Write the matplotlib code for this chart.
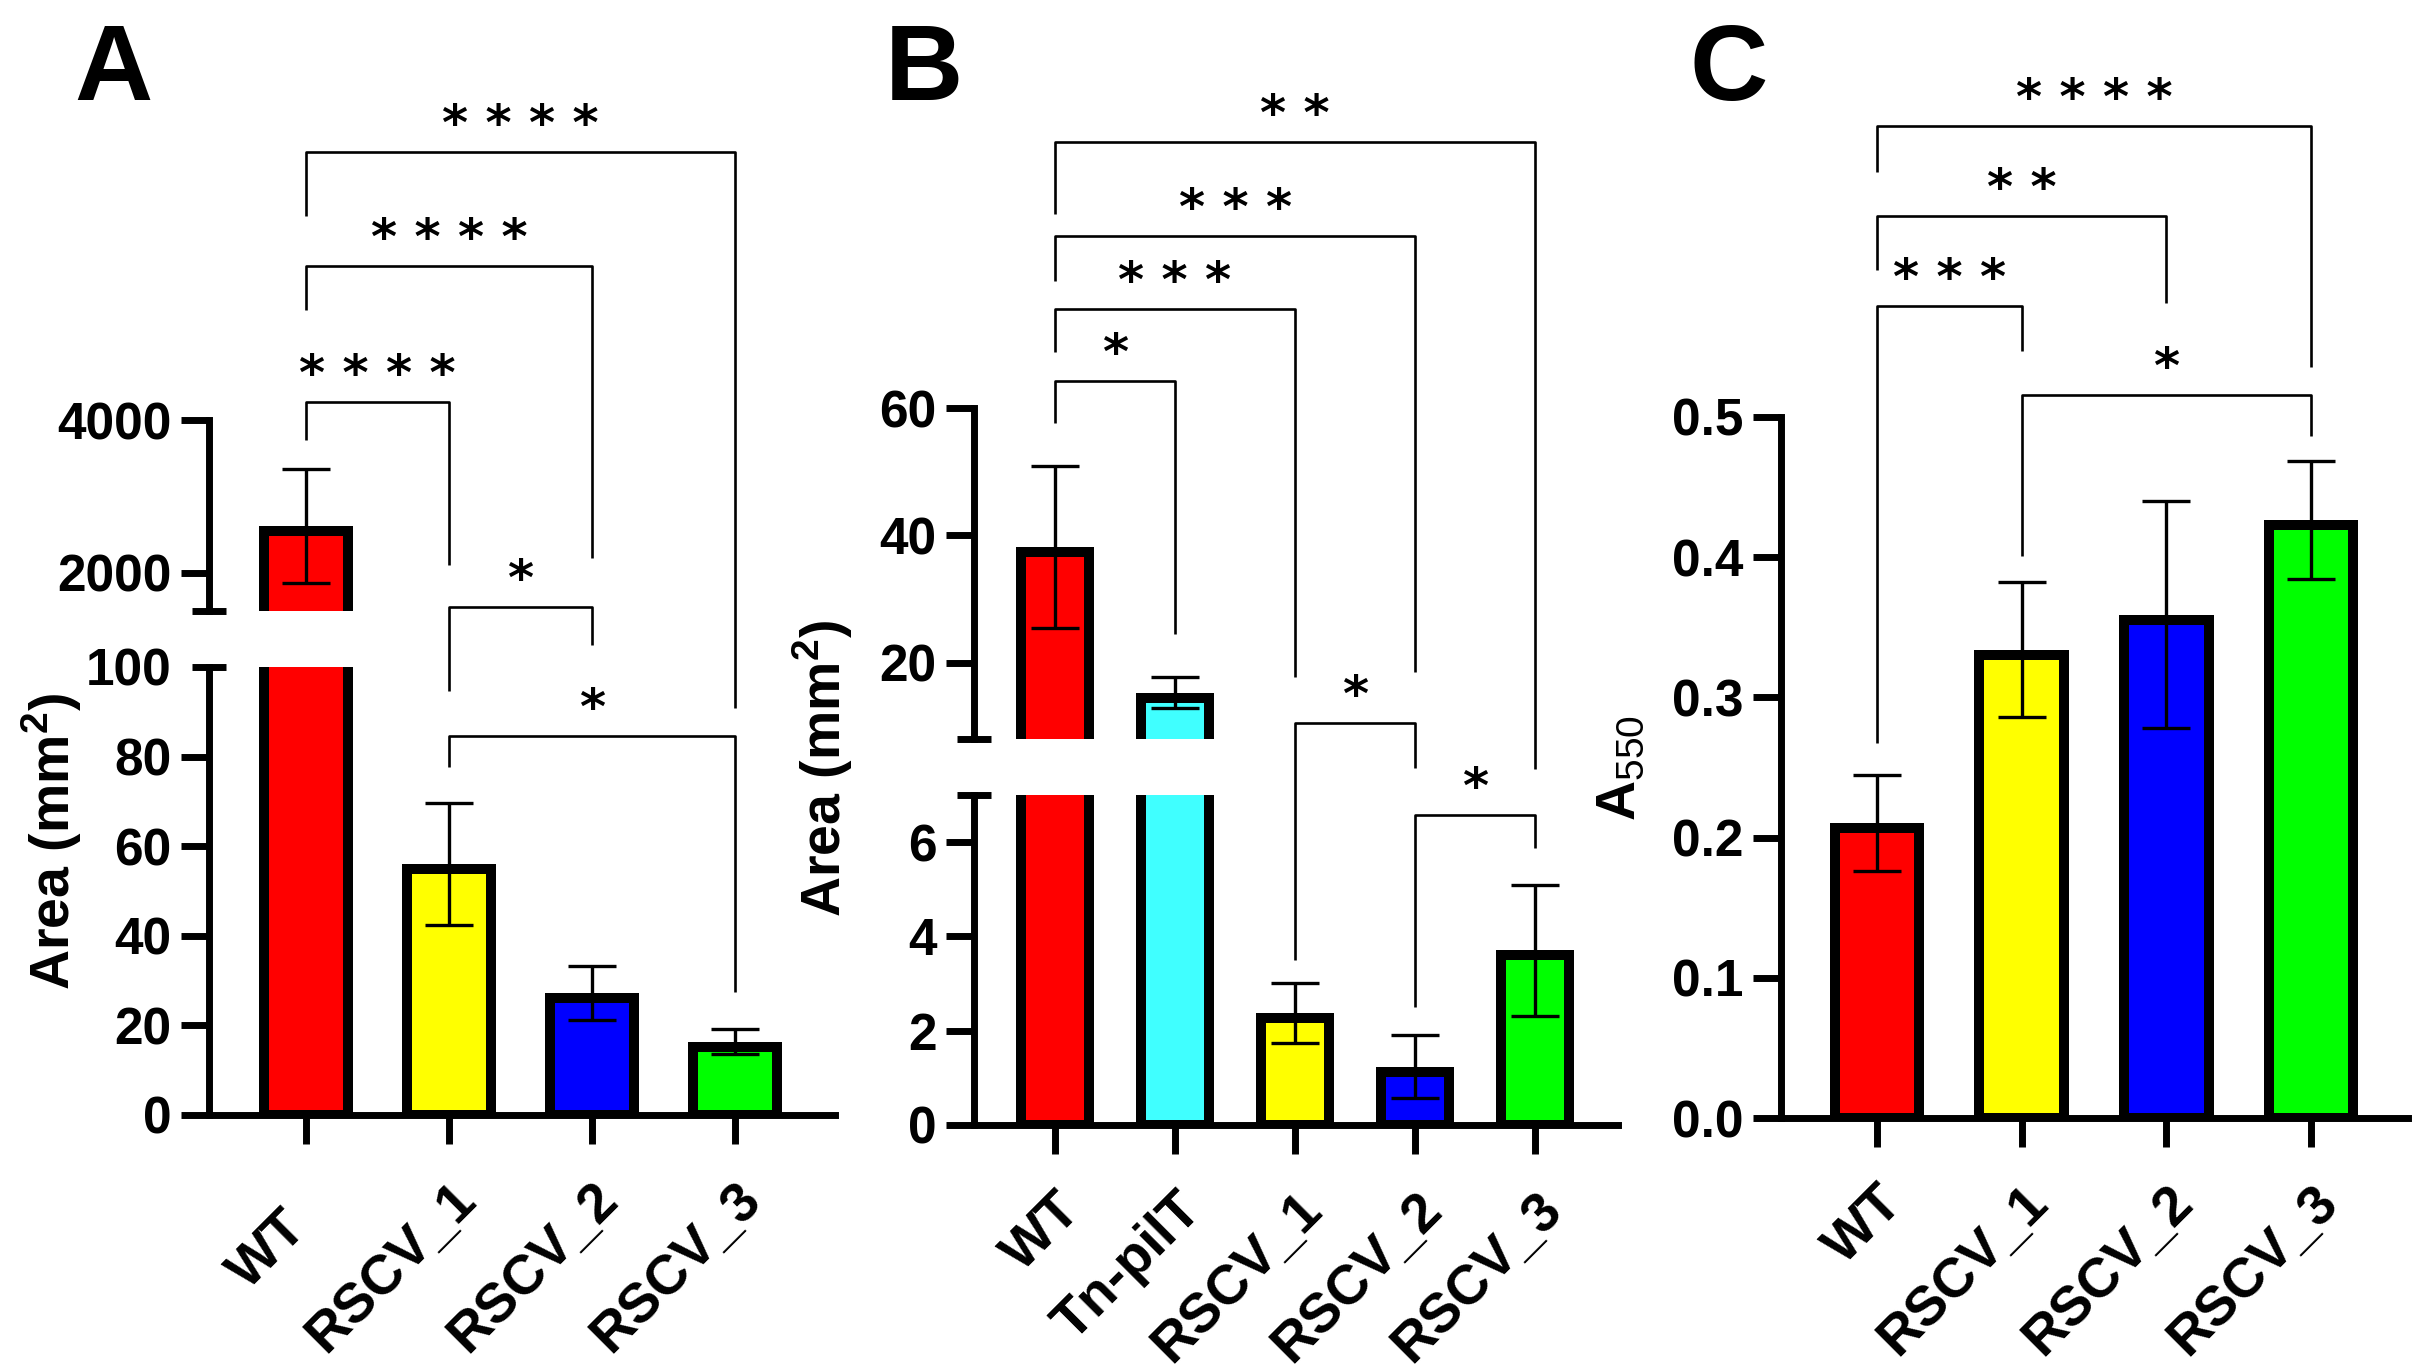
import numpy as np
import matplotlib
matplotlib.use("Agg")
import matplotlib.pyplot as plt
from matplotlib.transforms import blended_transform_factory, ScaledTranslation

plt.rcParams["font.family"] = ["Liberation Sans", "DejaVu Sans"]
plt.rcParams["mathtext.fontset"] = "custom"
plt.rcParams["mathtext.rm"] = "Liberation Sans"
plt.rcParams["mathtext.bf"] = "Liberation Sans:bold"

# ---- data ----
groups_a = ["WT", "RSCV_1", "RSCV_2", "RSCV_3"]
area_a = [2615, 56.0, 27.3, 16.4]
sd_a = [745, 13.7, 6.0, 2.8]
colors_a = ["#ff0000", "#ffff00", "#0000ff", "#00ff00"]

groups_b = ["WT", "Tn-pilT", "RSCV_1", "RSCV_2", "RSCV_3"]
area_b = [38.2, 15.3, 2.38, 1.24, 3.71]
sd_b = [12.7, 2.5, 0.64, 0.67, 1.39]
colors_b = ["#ff0000", "#40ffff", "#ffff00", "#0000ff", "#00ff00"]

groups_c = ["WT", "RSCV_1", "RSCV_2", "RSCV_3"]
a550_c = [0.2105, 0.334, 0.359, 0.4265]
sd_c = [0.0345, 0.048, 0.081, 0.042]
colors_c = ["#ff0000", "#ffff00", "#0000ff", "#00ff00"]

# significance brackets: (group i, group j, stars)
sig_a = [(0, 3, "* * * *"), (0, 2, "* * * *"), (0, 1, "* * * *"), (1, 2, "*"), (1, 3, "*")]
sig_b = [(0, 4, "* *"), (0, 3, "* * *"), (0, 2, "* * *"), (0, 1, "*"), (2, 3, "*"), (3, 4, "*")]
sig_c = [(0, 3, "* * * *"), (0, 2, "* *"), (0, 1, "* * *"), (1, 3, "*")]

# bracket geometry in pixels from top: (bar level, left end, right end)
geo_a = [(152, 216, 708), (266, 310, 558), (402, 440, 565), (607, 691, 645), (736, 767, 992)]
geo_b = [(142, 214, 769), (236, 281, 672), (309, 352, 677), (381, 423, 634), (723, 960, 768), (815, 1007, 848)]
geo_c = [(126, 172, 367), (216, 270, 303), (306, 743, 351), (395, 556, 436)]

W, H = 2423, 1369
fig = plt.figure(figsize=(W / 100, H / 100), dpi=100)

TICK_FS = 37
XLAB_FS = 40
LW_AX = 5
BAR_W = 0.655     # outer width of a bar, border included
EDGE_PX = 10      # bar border, drawn inside the bar like GraphPad


def px_axes(left, top, right, bottom):
    return fig.add_axes([left / W, 1 - bottom / H, (right - left) / W, (bottom - top) / H])


def fy(y):
    return 1 - y / H


def style(ax, xaxis=True):
    for s in ["top", "right"]:
        ax.spines[s].set_visible(False)
    ax.spines["left"].set_linewidth(LW_AX)
    ax.spines["bottom"].set_linewidth(LW_AX)
    ax.tick_params(axis="y", which="major", direction="out", length=20, width=LW_AX,
                   labelsize=TICK_FS, pad=7)
    ax.tick_params(axis="y", which="minor", direction="inout", length=24, width=LW_AX,
                   labelsize=TICK_FS, pad=15)
    for lab in ax.get_yticklabels(which="both"):
        lab.set_fontweight("bold")
    if xaxis:
        ax.tick_params(axis="x", direction="out", length=21, width=LW_AX, labelsize=XLAB_FS, pad=21)
    else:
        ax.spines["bottom"].set_visible(False)
        ax.tick_params(axis="x", length=0, labelbottom=False)


def draw_bars(ax, vals, errs, colors):
    # limits must already be set: the border is inset by half its width
    x = np.arange(len(vals))
    p0 = ax.transData.transform((0, 0))
    p1 = ax.transData.transform((1, 1))
    dx = (EDGE_PX / 2) / (p1[0] - p0[0])
    dy = (EDGE_PX / 2) / (p1[1] - p0[1])
    vals = np.asarray(vals, dtype=float)
    ax.bar(x, vals - dy, width=BAR_W - 2 * dx, color=colors, edgecolor="black",
           linewidth=EDGE_PX * 0.72, zorder=2)
    ax.errorbar(x, vals, yerr=errs, fmt="none", ecolor="black", elinewidth=2.4,
                capsize=17, capthick=2.4, zorder=3)


def set_xlabels(ax, groups):
    ax.set_xticks(np.arange(len(groups)))
    ax.set_xticklabels(groups, rotation=45, ha="right", rotation_mode="anchor",
                       fontsize=XLAB_FS, fontweight="bold")


def brackets(ax, sigs, geo):
    tr = blended_transform_factory(ax.transData, fig.transFigure)
    for (i, j, lab), (yb, yl, yr) in zip(sigs, geo):
        ax.plot([i, i, j, j], [fy(yl), fy(yb), fy(yb), fy(yr)], color="black", lw=1.9,
                transform=tr, clip_on=False, solid_capstyle="butt", zorder=5)
        ax.text((i + j) / 2, fy(yb - 12), lab, transform=tr, ha="center", va="baseline",
                fontsize=36, fontweight="bold", family="DejaVu Sans", color="black")


# ---------------- Panel A (broken axis) ----------------
xlim_a = (-0.68, 3.70)
axA_top = px_axes(209, 420, 835, 611)
axA_bot = px_axes(209, 667, 835, 1115)
axA_top.set_ylim(1500, 4000)
axA_bot.set_ylim(0, 100)
for ax in (axA_top, axA_bot):
    ax.set_xlim(*xlim_a)
    draw_bars(ax, area_a, sd_a, colors_a)
axA_top.set_yticks([2000, 4000])
axA_top.set_yticks([1500], labels=[""], minor=True)
axA_bot.set_yticks([0, 20, 40, 60, 80])
axA_bot.set_yticks([100], labels=["100"], minor=True)
set_xlabels(axA_bot, groups_a)
style(axA_top, xaxis=False)
style(axA_bot)
# the WT label sits further down the diagonal in this panel
wt = axA_bot.get_xticklabels()[0]
wt.set_transform(wt.get_transform() + ScaledTranslation(-0.26, -0.28, fig.dpi_scale_trans))
brackets(axA_bot, sig_a, geo_a)
fig.text(52 / W, fy(841), "Area (mm$^{\\mathbf{2}}$)", rotation=90, ha="center", va="center",
         fontsize=40, fontweight="bold")

# ---------------- Panel B (broken axis) ----------------
xlim_b = (-0.675, 4.69)
axB_top = px_axes(974, 408, 1618, 739)
axB_bot = px_axes(974, 795, 1618, 1125)
axB_top.set_ylim(8, 60)
axB_bot.set_ylim(0, 7)
for ax in (axB_top, axB_bot):
    ax.set_xlim(*xlim_b)
    draw_bars(ax, area_b, sd_b, colors_b)
axB_top.set_yticks([20, 40, 60])
axB_top.set_yticks([8], labels=[""], minor=True)
axB_bot.set_yticks([0, 2, 4, 6])
axB_bot.set_yticks([7], labels=[""], minor=True)
set_xlabels(axB_bot, groups_b)
style(axB_top, xaxis=False)
style(axB_bot)
brackets(axB_bot, sig_b, geo_b)
fig.text(823 / W, fy(768), "Area (mm$^{\\mathbf{2}}$)", rotation=90, ha="center", va="center",
         fontsize=40, fontweight="bold")

# ---------------- Panel C ----------------
axC = px_axes(1781, 417, 2408, 1118)
axC.set_xlim(-0.664, 3.67)
axC.set_ylim(0, 0.5)
draw_bars(axC, a550_c, sd_c, colors_c)
axC.set_yticks([0.0, 0.1, 0.2, 0.3, 0.4, 0.5])
axC.set_yticklabels(["0.0", "0.1", "0.2", "0.3", "0.4", "0.5"])
set_xlabels(axC, groups_c)
style(axC)
brackets(axC, sig_c, geo_c)
fig.text(1621 / W, fy(768), "$\\mathbf{A}_{550}$", rotation=90, ha="center", va="center",
         fontsize=40)

# panel letters
for x0, letter in [(74, "A"), (885, "B"), (1689, "C")]:
    fig.text(x0 / W, fy(100), letter, fontsize=78, fontweight="bold", ha="left", va="baseline")

fig.savefig("out.png", dpi=100)
